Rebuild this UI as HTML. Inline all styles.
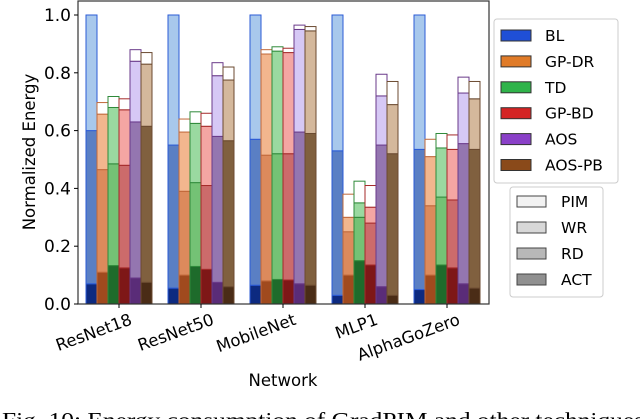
<!DOCTYPE html>
<html><head><meta charset="utf-8"><style>
body{margin:0;background:#fff;width:640px;height:419px;overflow:hidden}
svg{display:block;font-family:"DejaVu Sans","Liberation Sans",sans-serif}
</style></head><body>
<svg id="c" width="640" height="419"></svg>
<script>
const categories=["ResNet18","ResNet50","MobileNet","MLP1","AlphaGoZero"];
const techniques=["BL","GP-DR","TD","GP-BD","AOS","AOS-PB"];
const layers=["ACT","RD","WR","PIM"];
// cumulative tops per [category][technique] = [ACT, RD, WR, PIM]
const resnet18=[[0.07,0.60,1.0,1.0],[0.11,0.465,0.657,0.697],[0.133,0.485,0.68,0.718],[0.125,0.48,0.672,0.71],[0.09,0.63,0.84,0.88],[0.075,0.615,0.83,0.87]];
const resnet50=[[0.055,0.55,1.0,1.0],[0.10,0.39,0.595,0.64],[0.13,0.42,0.625,0.665],[0.12,0.41,0.615,0.66],[0.075,0.58,0.79,0.835],[0.06,0.565,0.775,0.82]];
const mobilenet=[[0.065,0.57,1.0,1.0],[0.08,0.515,0.865,0.88],[0.085,0.52,0.875,0.89],[0.083,0.52,0.87,0.885],[0.07,0.595,0.95,0.965],[0.065,0.59,0.945,0.96]];
const mlp1=[[0.03,0.53,1.0,1.0],[0.10,0.25,0.30,0.38],[0.15,0.30,0.35,0.425],[0.135,0.28,0.335,0.41],[0.06,0.55,0.72,0.795],[0.03,0.52,0.69,0.77]];
const alphago=[[0.05,0.535,1.0,1.0],[0.10,0.34,0.51,0.57],[0.135,0.37,0.54,0.59],[0.125,0.36,0.535,0.585],[0.07,0.555,0.73,0.785],[0.055,0.535,0.71,0.77]];
const yTicks=[0,0.2,0.4,0.6,0.8,1.0];
const yTickLabels=["0.0","0.2","0.4","0.6","0.8","1.0"];
const data=[resnet18,resnet50,mobilenet,mlp1,alphago];

const NS="http://www.w3.org/2000/svg";
const svg=document.getElementById('c');
function mk(t,a,p){const e=document.createElementNS(NS,t);for(const k in a)e.setAttribute(k,a[k]);(p||svg).appendChild(e);return e;}
const L=78,R=489,T=1,B=304;
const y=v=>B-v*289;
const groupX=i=>86+i*82;
const barW=11;
const x=(i,j)=>groupX(i)+j*barW;
const pal=[
 {e:"#2b5bd6",c:["#0d2a80","#5a7fc4","#a8c8ec","#ffffff"],l:"#1f4fd6"},
 {e:"#c0683a",c:["#a04a1e","#dc8a5c","#f2b68e","#ffffff"],l:"#e07b28"},
 {e:"#2f8a3a",c:["#1e6b2b","#74c275","#9ad9a0","#ffffff"],l:"#2fb34a"},
 {e:"#a52a2a",c:["#7e1717","#cc6b6b","#f4a6a3","#ffffff"],l:"#d42424"},
 {e:"#6a3a8a",c:["#5a2c78","#9476b0","#d6c8f5","#ffffff"],l:"#8a40c8"},
 {e:"#6b4a30",c:["#4a2c16","#80603f","#d4b89c","#ffffff"],l:"#8a4a1a"}];
const g=mk('g',{});

data.forEach((cat,i)=>{cat.forEach((vals,j)=>{let prev=0;
 vals.forEach((v,k)=>{const r=mk('rect',{x:x(i,j),y:y(v),width:barW,height:Math.max(0,y(prev)-y(v)),fill:pal[j].c[k],stroke:pal[j].e,'stroke-width':1},g);
 
 prev=v;});});});
mk('rect',{x:L,y:T,width:R-L,height:B-T,fill:'none',stroke:'#333','stroke-width':1.2});
yTicks.forEach((v,i)=>{mk('line',{x1:L-4,x2:L,y1:y(v),y2:y(v),stroke:'#000'});
 const t=mk('text',{x:L-7,y:y(v)+6,'text-anchor':'end','font-size':17});t.textContent=yTickLabels[i];
 });
categories.forEach((c,i)=>{const cx=groupX(i)+33;mk('line',{x1:cx,x2:cx,y1:B,y2:B+4,stroke:'#000'});
 const ax=cx+14,ay=B+20;
 const t=mk('text',{x:ax,y:ay,'text-anchor':'end','font-size':16.5,transform:`rotate(-20 ${ax} ${ay})`});t.textContent=c;
 });
let t=mk('text',{x:283,y:386,'text-anchor':'middle','font-size':16.5});t.textContent="Network";

t=mk('text',{x:0,y:0,'text-anchor':'middle','font-size':16.5,transform:'translate(35 152) rotate(-90)'});t.textContent="Normalized Energy";

const lg=mk('g',{});
mk('rect',{x:494,y:19,width:124,height:164,rx:3,fill:'#fff',stroke:'#ccc'},lg);
techniques.forEach((n,j)=>{const yy=35+j*25.9;
 mk('rect',{x:501,y:yy-5,width:30,height:11,fill:pal[j].l,stroke:'#333'},lg);
 const tt=mk('text',{x:545,y:yy+6,'font-size':15.5},lg);tt.textContent=n;
 });
const lg2=mk('g',{});
mk('rect',{x:510,y:187,width:93,height:110,rx:3,fill:'#fff',stroke:'#ccc'},lg2);
const lc=["#f2f2f2","#d8d8d8","#b8b8b8","#909090"];
["PIM","WR","RD","ACT"].forEach((n,k)=>{const yy=201+k*26;
 mk('rect',{x:517,y:yy-5,width:29,height:11,fill:lc[k],stroke:'#444'},lg2);
 const tt=mk('text',{x:561,y:yy+6,'font-size':15.5},lg2);tt.textContent=n;
 });
t=mk('text',{x:2,y:427,'font-size':21,textLength:642,lengthAdjust:'spacingAndGlyphs','font-family':'"Liberation Serif",serif'});t.textContent="Fig. 10: Energy consumption of GradPIM and other techniques";

</script>
</body></html>
